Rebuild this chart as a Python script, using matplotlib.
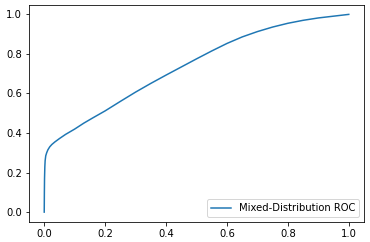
import matplotlib
matplotlib.use("Agg")
import matplotlib.pyplot as plt

fpr = [0, 0.0005, 0.001, 0.002, 0.003, 0.005, 0.008, 0.012, 0.018, 0.025, 0.035, 0.05,
       0.07, 0.1, 0.13, 0.16, 0.2, 0.25, 0.3, 0.35, 0.4, 0.45, 0.5, 0.55, 0.6, 0.65,
       0.7, 0.75, 0.8, 0.85, 0.9, 0.95, 1.0]
tpr = [0, 0.10, 0.17, 0.23, 0.26, 0.285, 0.30, 0.315, 0.33, 0.342, 0.355, 0.372,
       0.393, 0.42, 0.45, 0.477, 0.512, 0.560, 0.607, 0.651, 0.693, 0.734, 0.775, 0.815,
       0.853, 0.886, 0.913, 0.936, 0.955, 0.97, 0.982, 0.991, 1.0]
label = "Mixed-Distribution ROC"

fig = plt.figure(figsize=(370 / 72, 242 / 72), dpi=72)
ax = fig.add_axes([29 / 370, 20 / 242, 335 / 370, 217.5 / 242])
ax.plot(fpr, tpr, label=label)
ax.set_xticks([0, 0.2, 0.4, 0.6, 0.8, 1.0])
ax.set_yticks([0, 0.2, 0.4, 0.6, 0.8, 1.0])
ax.legend(loc="lower right")
fig.savefig("out.png", dpi=72)
